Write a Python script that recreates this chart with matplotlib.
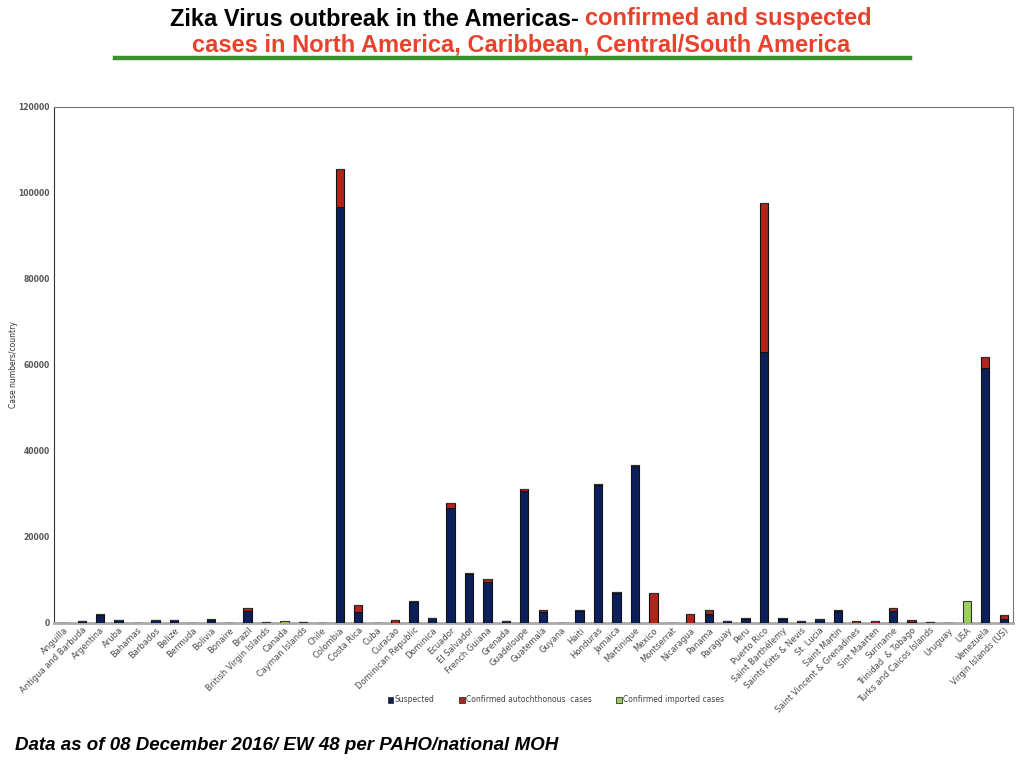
import matplotlib
matplotlib.use("Agg")
import matplotlib.pyplot as plt
import numpy as np
from matplotlib.patches import Patch

countries = ["Anguilla", "Antigua and Barbuda", "Argentina", "Aruba", "Bahamas", "Barbados",
             "Belize", "Bermuda", "Bolivia", "Bonaire", "Brazil", "British Virgin Islands",
             "Canada", "Cayman Islands", "Chile", "Colombia", "Costa Rica", "Cuba", "Curacao",
             "Dominican Republic", "Dominica", "Ecuador", "El Salvador", "French Guiana",
             "Grenada", "Guadeloupe", "Guatemala", "Guyana", "Haiti", "Honduras", "Jamaica",
             "Martinique", "Mexico", "Montserrat", "Nicaragua", "Panama", "Paraguay", "Peru",
             "Puerto Rico", "Saint Barthélemy", "Saints Kitts & Nevis", "St. Lucia",
             "Saint Martin", "Saint Vincent & Grenadines", "Sint Maarten", "Suriname",
             "Trinidad  & Tobago", "Turks and Caicos Islands", "Uruguay", "USA", "Venezuela",
             "Virgin Islands (US)"]

suspected = [80, 450, 1900, 700, 60, 600,
             600, 30, 800, 100, 2900, 100,
             0, 200, 40, 96800, 2600, 60, 100,
             4800, 1100, 26700, 11400, 9600,
             400, 30800, 2600, 60, 2900, 32000, 6900,
             36500, 0, 60, 0, 2200, 500, 1000,
             63000, 1000, 500, 900,
             2900, 100, 100, 2700,
             200, 200, 0, 0, 59300,
             1000]

confirmed = [20, 60, 100, 60, 30, 60,
             60, 0, 120, 0, 600, 50,
             0, 40, 0, 8800, 1700, 40, 600,
             300, 100, 1200, 150, 600,
             100, 300, 500, 30, 100, 250, 250,
             200, 6900, 20, 2100, 800, 60, 150,
             34700, 60, 60, 60,
             150, 300, 300, 800,
             500, 100, 0, 0, 2500,
             800]

imported = [0, 0, 0, 0, 0, 0,
            0, 0, 0, 0, 0, 0,
            350, 0, 0, 0, 0, 0, 0,
            0, 0, 0, 0, 0,
            0, 0, 0, 0, 0, 0, 0,
            0, 0, 0, 0, 0, 0, 0,
            0, 0, 0, 0,
            0, 0, 0, 0,
            0, 0, 0, 5050, 0,
            0]

yticks = [0, 20000, 40000, 60000, 80000, 100000, 120000]

c_susp = "#0b1f5a"
c_conf = "#b3241a"
c_imp = "#9dcf5b"
red_title = "#e8412c"

fig = plt.figure(figsize=(10.24, 7.68), dpi=100)
ax = fig.add_axes([54/1024, 1-623/768, (1013-54)/1024, (623-107)/768])

x = np.arange(len(countries))
s = np.array(suspected, float)
c = np.array(confirmed, float)
im = np.array(imported, float)
w = 0.45
ax.bar(x, s, w, color=c_susp, edgecolor="#111111", linewidth=0.8, zorder=3)
ax.bar(x, c, w, bottom=s, color=c_conf, edgecolor="#111111", linewidth=0.8, zorder=3)
ax.bar(x, im, w, bottom=s + c, color=c_imp, edgecolor="#333333", linewidth=0.8, zorder=3)

ax.set_xlim(-0.5, len(countries) - 0.5)
ax.set_ylim(0, 120000)
ax.set_yticks(yticks)
ax.set_yticklabels([str(v) for v in yticks], fontsize=5.5, color="#555555", fontweight="bold")
ax.set_xticks(x)
ax.set_xticklabels(countries, rotation=45, ha="right", rotation_mode="anchor",
                   fontsize=6, color="#4a4a4a")
ax.tick_params(axis="both", length=0, pad=3)
ax.tick_params(axis="x", pad=2)
ax.set_ylabel("Case numbers/country", fontsize=5.5, color="#333333", va="center")
ax.yaxis.set_label_coords(-0.042, 0.5)

for side in ["top", "right"]:
    ax.spines[side].set_color("#777777")
    ax.spines[side].set_linewidth(0.8)
ax.spines["left"].set_color("#333333")
ax.spines["left"].set_linewidth(0.8)
ax.spines["bottom"].set_color("#aaaaaa")
ax.spines["bottom"].set_linewidth(2)

handles = [Patch(facecolor=c_susp, edgecolor="#333333", linewidth=0.6),
           Patch(facecolor=c_conf, edgecolor="#333333", linewidth=0.6),
           Patch(facecolor=c_imp, edgecolor="#333333", linewidth=0.6)]
labels = ["Suspected", "Confirmed autochthonous  cases", "Confirmed imported cases"]
leg = fig.legend(handles, labels, loc="center", bbox_to_anchor=(0.543, 1-700/768), ncol=3,
                 frameon=False, fontsize=5.5, handlelength=0.7, handleheight=0.7,
                 handletextpad=0.2, columnspacing=3.2)
for t in leg.get_texts():
    t.set_color("#444444")

# Title
tfam = ["Liberation Sans Narrow", "Liberation Sans", "DejaVu Sans"]
tsize = 17
part1 = "Zika Virus outbreak in the Americas- "
part2 = "confirmed and suspected"
renderer = fig.canvas.get_renderer()
t1 = fig.text(0, 0, part1, fontsize=tsize, fontweight="bold", family=tfam, color="black")
t2 = fig.text(0, 0, part2, fontsize=tsize, fontweight="bold", family=tfam, color=red_title)
w1 = t1.get_window_extent(renderer).width
w2 = t2.get_window_extent(renderer).width
cx = 521
y1 = 1 - 19/768
x0 = cx - (w1 + w2) / 2
t1.set_position((x0/1024, y1)); t1.set_va("center")
t2.set_position(((x0 + w1)/1024, y1)); t2.set_va("center")
fig.text(cx/1024, 1 - 45/768, "cases in North America, Caribbean, Central/South America",
         fontsize=tsize, fontweight="bold", family=tfam, color=red_title, ha="center", va="center")
fig.add_artist(plt.Line2D([115/1024, 910/1024], [1-58/768, 1-58/768], color="#3c8f2f",
                          linewidth=3.2, transform=fig.transFigure))

fig.text(15/1024, 1 - 746/768, "Data as of 08 December 2016/ EW 48 per PAHO/national MOH",
         fontsize=13.5, fontweight="bold", fontstyle="italic", family=["Liberation Sans", "DejaVu Sans"],
         color="black", ha="left", va="center")

fig.savefig("out.png", dpi=100)
